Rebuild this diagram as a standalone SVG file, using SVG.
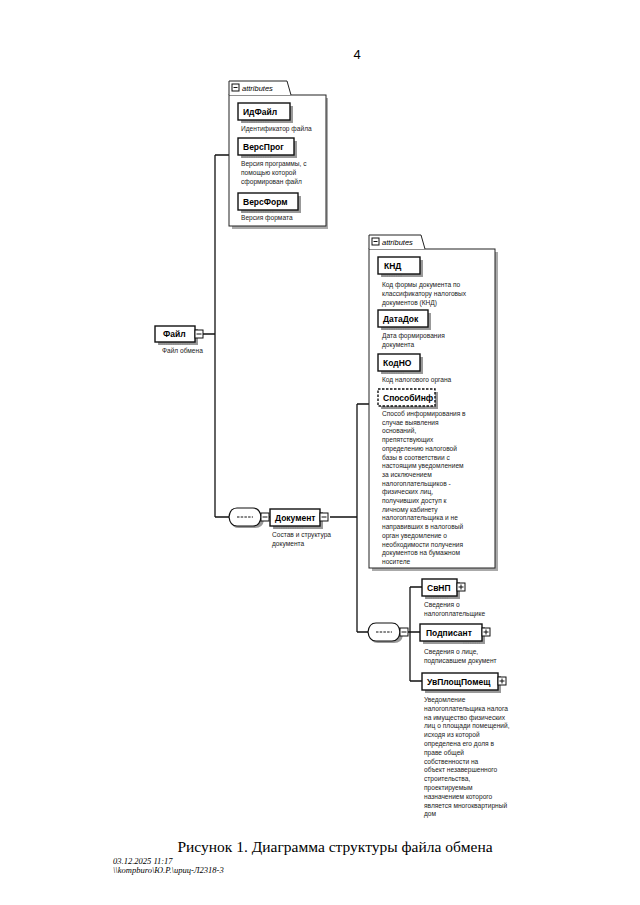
<svg xmlns="http://www.w3.org/2000/svg" width="640" height="905" viewBox="0 0 640 905">
<style>
.bg{fill:#fff}
.node{fill:#fff;stroke:#111;stroke-width:1.4}
.opt{fill:#fff;stroke:#111;stroke-width:1.4;stroke-dasharray:2.5,1.5}
.sh{fill:#999}
.lbl{font-family:"Liberation Sans",Arial,sans-serif;font-size:8.5px;font-weight:bold;fill:#000}
.desc{font-family:"Liberation Sans",Arial,sans-serif;font-size:6.6px;fill:#222}
.tab{font-family:"Liberation Sans",Arial,sans-serif;font-size:7.5px;font-style:italic;fill:#000}
.ln{fill:none;stroke:#111;stroke-width:1.3}
.pm{fill:#fff;stroke:#111;stroke-width:1}
.bar{stroke:#888;stroke-width:1.2;stroke-dasharray:1.5,0.8}
</style>
<defs>
<g id="minus"><rect class="pm" x="0" y="-4" width="8" height="8"/><line x1="1.5" y1="0" x2="6.5" y2="0" stroke="#111" stroke-width="1"/></g>
<g id="plus"><rect class="pm" x="0" y="-4" width="8" height="8"/><line x1="1.5" y1="0" x2="6.5" y2="0" stroke="#111" stroke-width="1"/><line x1="4" y1="-2.5" x2="4" y2="2.5" stroke="#111" stroke-width="1"/></g>
<g id="seq">
<path d="M10,-6 H26 Q34,-6 35,3 Q34,11 26,11 H10 Q2,11 3,3 Q2,-6 10,-6 Z" class="sh"/>
<path d="M8,-9 H24 Q31,-9 32,0 Q31,9 24,9 H8 Q1,9 0,0 Q1,-9 8,-9 Z" fill="#fff" stroke="#111" stroke-width="1.2"/>
<line x1="8" y1="0" x2="24" y2="0" stroke="#111" stroke-width="1" stroke-dasharray="2.5,1.2"/>
</g>
</defs>
<rect class="bg" x="0" y="0" width="640" height="905"/>

<text x="357" y="59" font-family="Liberation Sans,Arial,sans-serif" font-size="13" text-anchor="middle" fill="#000">4</text>

<g id="connectors">
<path class="ln" d="M203,334 H215 M215,155 V517 M215,155 H229 M215,517 H229"/>
<path class="ln" d="M268,517 H270 M330,517 H357 M357,404 V632 M357,404 H369 M357,632 H368"/>
<path class="ln" d="M406,632 H410 M410,587 V681 M410,587 H422 M410,632 H420 M410,681 H422"/>
</g>

<g id="attrs1">
<rect x="232" y="98" width="96" height="131" fill="#aaa"/>
<rect x="229" y="95" width="97" height="131" fill="#fff" stroke="#222" stroke-width="1"/>
<path d="M229,95 V81 H287 L291,95" fill="#fff" stroke="#222" stroke-width="1"/>
<rect class="pm" x="232" y="84" width="7" height="7"/><line x1="233.5" y1="87.5" x2="237.5" y2="87.5" stroke="#111"/>
<text class="tab" x="242" y="91">attributes</text>
</g>
<g id="IdFile">
<rect class="sh" x="241" y="106" width="52" height="17"/>
<rect class="node" x="238" y="103" width="52" height="17"/>
<text class="lbl" x="243" y="115">ИдФайл</text>
<line class="bar" x1="242" y1="122" x2="270" y2="122"/>
<text class="desc" x="241" y="131">Идентификатор файла</text>
</g>
<g id="VersProg">
<rect class="sh" x="241" y="141" width="56" height="17"/>
<rect class="node" x="238" y="138" width="56" height="17"/>
<text class="lbl" x="243" y="150">ВерсПрог</text>
<line class="bar" x1="242" y1="157" x2="272" y2="157"/>
<text class="desc" x="241" y="166">Версия программы, с</text>
<text class="desc" x="241" y="175">помощью которой</text>
<text class="desc" x="241" y="184">сформирован файл</text>
</g>
<g id="VersForm">
<rect class="sh" x="241" y="196" width="60" height="17"/>
<rect class="node" x="238" y="193" width="60" height="17"/>
<text class="lbl" x="243" y="205">ВерсФорм</text>
<line class="bar" x1="242" y1="212" x2="274" y2="212"/>
<text class="desc" x="241" y="220">Версия формата</text>
</g>

<g id="File">
<rect class="sh" x="158" y="329" width="40" height="16"/>
<rect class="node" x="155" y="326" width="40" height="16"/>
<text class="lbl" x="163" y="337">Файл</text>
<use href="#minus" x="195" y="334"/>
<line class="bar" x1="159" y1="344" x2="190" y2="344"/>
<text class="desc" x="162" y="353">Файл обмена</text>
</g>

<g id="seq1">
<use href="#seq" x="229" y="517"/>
<use href="#minus" x="261" y="517"/>
</g>

<g id="Document">
<rect class="sh" x="273" y="512" width="50" height="17"/>
<rect class="node" x="270" y="509" width="50" height="17"/>
<text class="lbl" x="275" y="521">Документ</text>
<use href="#minus" x="320" y="517"/>
<line class="bar" x1="274" y1="528" x2="304" y2="528"/>
<text class="desc" x="272" y="537">Состав и структура</text>
<text class="desc" x="272" y="546">документа</text>
</g>

<g id="attrs2">
<rect x="372" y="252" width="126" height="319" fill="#aaa"/>
<rect x="369" y="249" width="126" height="319" fill="#fff" stroke="#222" stroke-width="1"/>
<path d="M369,249 V235 H421 L425,249" fill="#fff" stroke="#222" stroke-width="1"/>
<rect class="pm" x="372" y="238" width="7" height="7"/><line x1="373.5" y1="241.5" x2="377.5" y2="241.5" stroke="#111"/>
<text class="tab" x="382" y="245">attributes</text>
</g>
<g id="KND">
<rect class="sh" x="381" y="260" width="42" height="17"/>
<rect class="node" x="378" y="257" width="42" height="17"/>
<text class="lbl" x="384" y="269">КНД</text>
<line class="bar" x1="382" y1="276" x2="402" y2="276"/>
<text class="desc" x="382" y="287">Код формы документа по</text>
<text class="desc" x="382" y="296">классификатору налоговых</text>
<text class="desc" x="382" y="305">документов (КНД)</text>
</g>
<g id="DataDok">
<rect class="sh" x="381" y="313" width="50" height="17"/>
<rect class="node" x="378" y="310" width="50" height="17"/>
<text class="lbl" x="383" y="322">ДатаДок</text>
<line class="bar" x1="382" y1="329" x2="410" y2="329"/>
<text class="desc" x="382" y="338">Дата формирования</text>
<text class="desc" x="382" y="347">документа</text>
</g>
<g id="KodNO">
<rect class="sh" x="381" y="357" width="42" height="17"/>
<rect class="node" x="378" y="354" width="42" height="17"/>
<text class="lbl" x="383" y="366">КодНО</text>
<line class="bar" x1="382" y1="373" x2="404" y2="373"/>
<text class="desc" x="382" y="382">Код налогового органа</text>
</g>
<g id="SposobInf">
<rect class="sh" x="381" y="392" width="57" height="17"/>
<rect class="opt" x="378" y="389" width="57" height="17"/>
<text class="lbl" x="383" y="401">СпособИнф</text>
<line class="bar" x1="382" y1="408" x2="425" y2="408"/>
<text class="desc" x="382" y="416">Способ информирования в</text>
<text class="desc" x="382" y="424.7">случае выявления</text>
<text class="desc" x="382" y="433.4">оснований,</text>
<text class="desc" x="382" y="442.1">препятствующих</text>
<text class="desc" x="382" y="450.8">определению налоговой</text>
<text class="desc" x="382" y="459.5">базы в соответствии с</text>
<text class="desc" x="382" y="468.2">настоящим уведомлением</text>
<text class="desc" x="382" y="476.9">за исключением</text>
<text class="desc" x="382" y="485.6">налогоплательщиков -</text>
<text class="desc" x="382" y="494.3">физических лиц,</text>
<text class="desc" x="382" y="503">получивших доступ к</text>
<text class="desc" x="382" y="511.7">личному кабинету</text>
<text class="desc" x="382" y="520.4">налогоплательщика и не</text>
<text class="desc" x="382" y="529.1">направивших в налоговый</text>
<text class="desc" x="382" y="537.8">орган уведомление о</text>
<text class="desc" x="382" y="546.5">необходимости получения</text>
<text class="desc" x="382" y="555.2">документов на бумажном</text>
<text class="desc" x="382" y="563.9">носителе</text>
</g>

<g id="seq2">
<use href="#seq" x="368" y="632"/>
<use href="#minus" x="400" y="632"/>
</g>

<g id="SvNP">
<rect class="sh" x="425" y="582" width="35" height="17"/>
<rect class="node" x="422" y="579" width="35" height="17"/>
<text class="lbl" x="427" y="591">СвНП</text>
<use href="#plus" x="457" y="587"/>
<line class="bar" x1="426" y1="598" x2="448" y2="598"/>
<text class="desc" x="424" y="607">Сведения о</text>
<text class="desc" x="424" y="615.5">налогоплательщике</text>
</g>
<g id="Podpisant">
<rect class="sh" x="423" y="627" width="62" height="17"/>
<rect class="node" x="420" y="624" width="62" height="17"/>
<text class="lbl" x="426" y="636">Подписант</text>
<use href="#plus" x="482" y="632"/>
<line class="bar" x1="463" y1="643" x2="480" y2="643"/>
<text class="desc" x="424" y="654">Сведения о лице,</text>
<text class="desc" x="424" y="662.5">подписавшем документ</text>
</g>
<g id="UvPlosh">
<rect class="sh" x="425" y="676" width="76" height="17"/>
<rect class="node" x="422" y="673" width="76" height="17"/>
<text class="lbl" x="427" y="685">УвПлощПомещ</text>
<use href="#plus" x="498" y="681"/>
<text class="desc" x="424" y="702">Уведомление</text>
<text class="desc" x="424" y="710.8">налогоплательщика налога</text>
<text class="desc" x="424" y="719.6">на имущество физических</text>
<text class="desc" x="424" y="728.4">лиц о площади помещений,</text>
<text class="desc" x="424" y="737.2">исходя из которой</text>
<text class="desc" x="424" y="746">определена его доля в</text>
<text class="desc" x="424" y="754.8">праве общей</text>
<text class="desc" x="424" y="763.6">собственности на</text>
<text class="desc" x="424" y="772.4">объект незавершенного</text>
<text class="desc" x="424" y="781.2">строительства,</text>
<text class="desc" x="424" y="790">проектируемым</text>
<text class="desc" x="424" y="798.8">назначением которого</text>
<text class="desc" x="424" y="807.6">является многоквартирный</text>
<text class="desc" x="424" y="816.4">дом</text>
</g>

<text x="335" y="852" font-family="Liberation Serif,serif" font-size="15.5" text-anchor="middle" fill="#000">Рисунок 1. Диаграмма структуры файла обмена</text>
<text x="113" y="864" font-family="Liberation Serif,serif" font-size="8.5" font-style="italic" fill="#000">03.12.2025 11:17</text>
<text x="113" y="873" font-family="Liberation Serif,serif" font-size="8.5" font-style="italic" fill="#000">\\kompburo\Ю.Р.\ириц-Л2318-3</text>
</svg>
